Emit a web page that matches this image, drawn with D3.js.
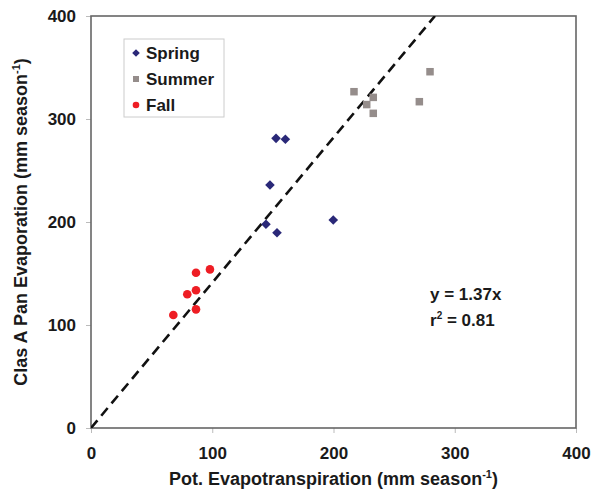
<!DOCTYPE html>
<html>
<head>
<meta charset="utf-8">
<script src="https://cdn.jsdelivr.net/npm/d3@7"></script>
<style>
  body { margin: 0; background: #fff; }
  text { font-family: "Liberation Sans", Arial, sans-serif; font-weight: bold; fill: #1a1a1a; }
</style>
</head>
<body>
<div id="chart"></div>
<script>
//* ------------------------------ DATA ---------------------------------------- //
const springX = [152.6, 160.3, 147.6, 199.8, 144.3, 153.4];
const springY = [281.2, 280.3, 235.9, 201.9, 197.8, 189.6];
const summerX = [216.9, 232.8, 227.4, 232.8, 279.6, 270.8];
const summerY = [326.5, 321.0, 314.0, 305.5, 345.9, 316.8];
const fallX = [67.9, 79.4, 86.6, 86.6, 98.1, 86.6];
const fallY = [109.7, 129.8, 133.7, 150.8, 154.0, 115.2];
const xTicks = [0, 100, 200, 300, 400];
const yTicks = [0, 100, 200, 300, 400];
const lineSlope = 1.41; // slope of the dashed line as drawn
const seriesNames = ["Spring", "Summer", "Fall"];
//* ------------------------------ END DATA ------------------------------------ //

const width = 594, height = 495;
const margin = {left: 91, right: 18, top: 16, bottom: 67};

const svg = d3.select("#chart").append("svg")
  .attr("width", width)
  .attr("height", height);

const x = d3.scaleLinear().domain([0, 400]).range([margin.left, width - margin.right]);
const y = d3.scaleLinear().domain([0, 400]).range([height - margin.bottom, margin.top]);

// axes
const xAxis = svg.append("g")
  .attr("transform", `translate(0,${y(0)})`)
  .call(d3.axisBottom(x).tickValues(xTicks).tickSize(5).tickPadding(10));
const yAxis = svg.append("g")
  .attr("transform", `translate(${x(0)},0)`)
  .call(d3.axisLeft(y).tickValues(yTicks).tickSize(5).tickPadding(10));

[xAxis, yAxis].forEach(a => {
  a.select(".domain").remove();
  a.selectAll(".tick line").attr("stroke", "#bbb");
  a.selectAll(".tick text").style("font-size", "17px").attr("fill", "#1a1a1a");
});
xAxis.selectAll(".tick text").attr("dy", "0.95em");

// frame
svg.append("rect")
  .attr("x", x(0)).attr("y", y(400))
  .attr("width", x(400) - x(0)).attr("height", y(0) - y(400))
  .attr("fill", "none").attr("stroke", "#666").attr("stroke-width", 1.6);

// dashed fit line
const clip = svg.append("clipPath").attr("id", "plotclip")
  .append("rect").attr("x", x(0)).attr("y", y(400))
  .attr("width", x(400) - x(0)).attr("height", y(0) - y(400));
svg.append("line")
  .attr("clip-path", "url(#plotclip)")
  .attr("x1", x(0)).attr("y1", y(0))
  .attr("x2", x(400 / lineSlope)).attr("y2", y(400))
  .attr("stroke", "#111").attr("stroke-width", 2.6)
  .attr("stroke-dasharray", "10,6");

// markers
function diamond(g, cx, cy, r, color) {
  g.append("path")
    .attr("d", `M${cx},${cy - r}L${cx + r},${cy}L${cx},${cy + r}L${cx - r},${cy}Z`)
    .attr("fill", color);
}
function square(g, cx, cy, s, color) {
  g.append("rect").attr("x", cx - s / 2).attr("y", cy - s / 2)
    .attr("width", s).attr("height", s).attr("fill", color);
}
function dot(g, cx, cy, r, color) {
  g.append("circle").attr("cx", cx).attr("cy", cy).attr("r", r).attr("fill", color);
}

const springColor = "#2a2878", summerColor = "#958d8b", fallColor = "#ee1d24";
const marks = svg.append("g");
springX.forEach((v, i) => diamond(marks, x(v), y(springY[i]), 4.8, springColor));
summerX.forEach((v, i) => square(marks, x(v), y(summerY[i]), 7.5, summerColor));
fallX.forEach((v, i) => dot(marks, x(v), y(fallY[i]), 4.3, fallColor));

// legend
const legend = svg.append("g").attr("transform", "translate(124,39)");
legend.append("rect").attr("width", 100).attr("height", 78)
  .attr("fill", "#fff").attr("stroke", "#ccc").attr("stroke-width", 1);
const drawers = [
  (g, cy) => diamond(g, 12, cy, 3.8, springColor),
  (g, cy) => square(g, 12, cy, 6, summerColor),
  (g, cy) => dot(g, 12, cy, 3.3, fallColor)
];
seriesNames.forEach((name, i) => {
  const cy = 14 + i * 26;
  drawers[i](legend, cy);
  legend.append("text").attr("x", 22).attr("y", cy).attr("dy", "0.36em")
    .style("font-size", "17px").text(name);
});

// equation
const eq = svg.append("g").attr("transform", "translate(430,300)");
eq.append("text").style("font-size", "17px").text("y = 1.37x");
const r2 = eq.append("text").attr("y", 25.5).style("font-size", "17px");
r2.append("tspan").text("r");
r2.append("tspan").attr("dy", -7).style("font-size", "10px").text("2");
r2.append("tspan").attr("dy", 7).text(" = 0.81");

// axis titles
const xt = svg.append("text")
  .attr("x", (x(0) + x(400)) / 2).attr("y", 485)
  .attr("text-anchor", "middle").style("font-size", "18px");
xt.append("tspan").text("Pot. Evapotranspiration (mm season");
xt.append("tspan").attr("dy", -7).style("font-size", "11px").text("-1");
xt.append("tspan").attr("dy", 7).text(")");

const yt = svg.append("text")
  .attr("transform", `translate(27,${(y(0) + y(400)) / 2}) rotate(-90)`)
  .attr("text-anchor", "middle").style("font-size", "18px");
yt.append("tspan").text("Clas A Pan Evaporation (mm season");
yt.append("tspan").attr("dy", -7).style("font-size", "11px").text("-1");
yt.append("tspan").attr("dy", 7).text(")");
</script>
</body>
</html>
